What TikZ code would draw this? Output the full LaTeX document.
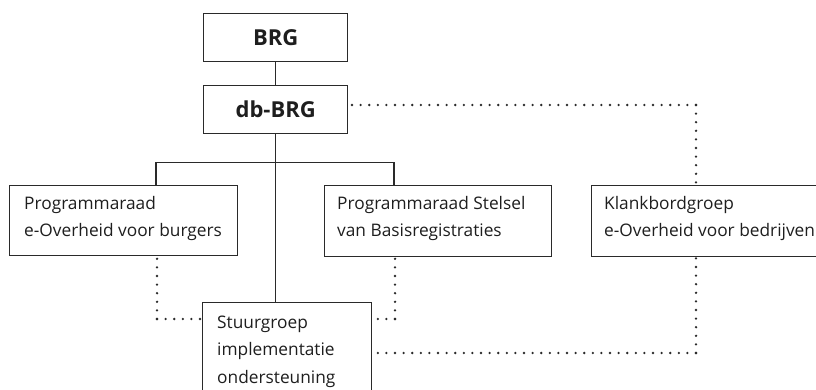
\documentclass[tikz,border=0pt]{standalone}
\usepackage{fontspec}
\setmainfont{Open Sans}
\usetikzlibrary{calc}
\definecolor{ink}{HTML}{2A2A2A}
\definecolor{txtc}{HTML}{1E1E1E}
\tikzset{
  box/.style={draw=ink, line width=1.3pt, rectangle, anchor=north west, inner sep=0pt},
  solidline/.style={draw=ink, line width=1.3pt},
  dotline/.style={draw=ink, line width=2.6pt, line cap=round, dash pattern=on 0pt off 8.6pt},
  txt/.style={text=txtc, inner sep=0pt, anchor=base west, font=\fontsize{17.3}{27.5}\selectfont},
  bold/.style={text=txtc, inner sep=0pt, font=\fontsize{22}{26}\selectfont\bfseries},
}
\begin{document}
\begin{tikzpicture}[x=1pt,y=-1pt]
\useasboundingbox (0,0) rectangle (816,390);
% boxes
\node[box, minimum width=144pt, minimum height=48pt] (brg) at (203,13) {};
\node[box, minimum width=144pt, minimum height=48pt] (dbbrg) at (203,85) {};
\node[box, minimum width=228pt, minimum height=70pt] (pb) at (9,185) {};
\node[box, minimum width=227pt, minimum height=71pt] (ps) at (324,185) {};
\node[box, minimum width=240pt, minimum height=71pt] (kb) at (591,185) {};
\node[box, minimum width=169pt, minimum height=100pt] (sg) at (202,302) {};
% texts
\node[bold] (brgt) at (brg.center) {BRG};
\node[bold] (dbbrgt) at (dbbrg.center) {db-BRG};
\node[txt] (pbt) at (24,209) {\begin{tabular}[t]{@{}l@{}}Programmaraad\\e-Overheid voor burgers\end{tabular}};
\node[txt] (pst) at (337,209) {\begin{tabular}[t]{@{}l@{}}Programmaraad Stelsel\\van Basisregistraties\end{tabular}};
\node[txt] (kbt) at (604,209) {\begin{tabular}[t]{@{}l@{}}Klankbordgroep\\e-Overheid voor bedrijven\end{tabular}};
\node[txt] (sgt) at (217,328) {\begin{tabular}[t]{@{}l@{}}Stuurgroep\\implementatie\\ondersteuning\end{tabular}};
% solid connectors
\coordinate (bar) at (275,162.5);
\draw[solidline] (brg.south) -- (dbbrg.north);
\draw[solidline] (dbbrg.south) -- (sg.north -| dbbrg.south);
\draw[solidline] (pb.north -| 156,0) |- (bar) -| (ps.north -| 394,0);
% dotted connectors
\coordinate (kc) at (696,105);
\coordinate (lc) at (157,319);
\coordinate (rc) at (395,319);
\coordinate (bc) at (696,353);
\draw[dotline] (kc) -- (dbbrg.east |- kc);
\draw[dotline] (kc) -- (kb.north -| kc);
\draw[dotline] (lc) -- (pb.south -| lc);
\draw[dotline] (lc) -- (sg.west |- lc);
\draw[dotline] (rc) -- (ps.south -| rc);
\draw[dotline] (rc) -- (sg.east |- rc);
\draw[dotline] (bc) -- (kb.south -| bc);
\draw[dotline] (bc) -- (sg.east |- bc);
\end{tikzpicture}
\end{document}
